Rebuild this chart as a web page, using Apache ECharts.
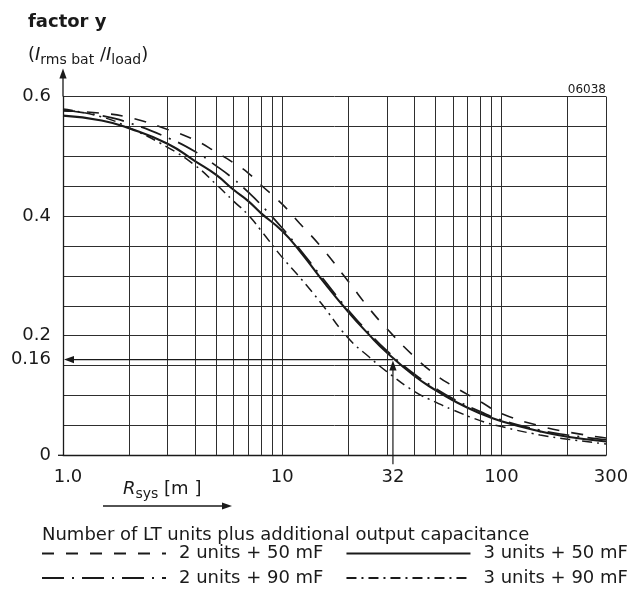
<!DOCTYPE html>
<html><head><meta charset="utf-8">
<script src="https://cdn.jsdelivr.net/npm/echarts@6/dist/echarts.min.js"></script>
<style>html,body{margin:0;padding:0;background:#fff}#c{width:639px;height:593px}</style>
</head><body><div id="c"></div>
<script>
// ---- data ----
const rValues = [1, 1.5, 2, 3, 4, 5, 6, 7, 8, 10, 12, 15, 20, 25, 30, 40, 50, 60, 80, 100, 150, 200, 300];
const units2_50mF = [0.576, 0.572, 0.565, 0.545, 0.527, 0.507, 0.489, 0.472, 0.452, 0.420, 0.388, 0.349, 0.291, 0.245, 0.212, 0.165, 0.135, 0.116, 0.090, 0.070, 0.049, 0.039, 0.029];
const units3_50mF = [0.568, 0.560, 0.547, 0.521, 0.492, 0.469, 0.444, 0.425, 0.405, 0.375, 0.342, 0.296, 0.240, 0.201, 0.172, 0.133, 0.109, 0.092, 0.070, 0.057, 0.040, 0.031, 0.023];
const units2_90mF = [0.577, 0.568, 0.556, 0.531, 0.508, 0.484, 0.462, 0.440, 0.419, 0.380, 0.345, 0.300, 0.243, 0.204, 0.175, 0.136, 0.112, 0.095, 0.073, 0.059, 0.042, 0.034, 0.026];
const units3_90mF = [0.579, 0.566, 0.548, 0.515, 0.485, 0.453, 0.425, 0.402, 0.376, 0.331, 0.298, 0.255, 0.196, 0.164, 0.140, 0.107, 0.089, 0.076, 0.058, 0.048, 0.034, 0.027, 0.019];
const seriesNames = ['2 units + 50 mF', '3 units + 50 mF', '2 units + 90 mF', '3 units + 90 mF'];
const xTickLabels = [1, 10, 32, 100, 300];
const yTickLabels = [0, 0.16, 0.2, 0.4, 0.6];
const xGridValues = [2, 3, 4, 5, 6, 7, 8, 9, 10, 20, 30, 40, 50, 60, 70, 80, 90, 100, 200, 300];
const readPoint = [32, 0.16];

// ---- styles ----
const FONT = 'DejaVu Sans';
const INK = '#1a1a1a';
const GRID = '#2e2e2e';
const curveStyles = [
  { width: 1.6, type: [12, 12] },
  { width: 2.1, type: 'solid' },
  { width: 1.7, type: [22, 8, 2, 8] },
  { width: 1.5, type: [10, 5, 2, 5] }
];
const seriesData = [units2_50mF, units3_50mF, units2_90mF, units3_90mF];

const series = seriesNames.map((name, i) => ({
  name, type: 'line', symbol: 'none', showSymbol: false,
  smooth: 0.5,
  data: rValues.map((r, k) => [r, seriesData[i][k]]),
  lineStyle: Object.assign({ color: INK }, curveStyles[i]),
  emphasis: { disabled: true }, z: 3
}));
series[0].markLine = {
  silent: true, symbol: ['none', 'none'], animation: false,
  label: { show: false }, emphasis: { disabled: true },
  lineStyle: { color: GRID, width: 1, type: 'solid' },
  data: xGridValues.map(v => ({ xAxis: v }))
};

const legendCommon = {
  orient: 'horizontal', padding: 0, itemWidth: 124, itemHeight: 14, itemGap: 22,
  selectedMode: false, left: 41,
  itemStyle: { color: 'rgba(0,0,0,0)', borderWidth: 0 },
  textStyle: { fontFamily: FONT, fontSize: 18, color: INK, padding: [0, 0, 0, 8] }
};
const richText = {
  p: { fontFamily: FONT, fontSize: 18, fontWeight: 'normal', lineHeight: 24, color: INK },
  i: { fontFamily: FONT, fontSize: 18, fontWeight: 'normal', lineHeight: 24, fontStyle: 'italic', color: INK },
  s: { fontFamily: FONT, fontSize: 14, fontWeight: 'normal', lineHeight: 14, verticalAlign: 'bottom', color: INK }
};

const option = {
  animation: false,
  textStyle: { fontFamily: FONT, color: INK },
  grid: { left: 63, right: 33, top: 96.5, bottom: 137.7, containLabel: false, outerBoundsMode: 'none' },
  title: [
    { text: 'factor y', left: 28, top: 13, padding: 0,
      textStyle: { fontFamily: FONT, fontSize: 18, fontWeight: 'bold', color: INK } },
    { text: '{p|(}{i|I}{s|rms bat}{p| /}{i|I}{s|load}{p|)}', left: 28, top: 43, padding: 0,
      textStyle: { fontWeight: 'normal', rich: richText } },
    { text: '06038', right: 33, top: 84, padding: 0,
      textStyle: { fontFamily: FONT, fontSize: 12, fontWeight: 'normal', color: INK } },
    { text: '{i|R}{s|sys}{p| [m ]}', left: 123, top: 477, padding: 0,
      textStyle: { fontWeight: 'normal', rich: richText } },
    { text: 'Number of LT units plus additional output capacitance', left: 42, top: 526, padding: 0,
      textStyle: { fontFamily: FONT, fontSize: 18, fontWeight: 'normal', color: INK } }
  ],
  legend: [
    Object.assign({ data: [seriesNames[0], seriesNames[1]], top: 544.5 }, legendCommon),
    Object.assign({ data: [seriesNames[2], seriesNames[3]], top: 569 }, legendCommon)
  ],
  xAxis: {
    type: 'log', logBase: 10, min: 1, max: 300,
    axisLine: { show: true, onZero: false, lineStyle: { color: INK, width: 1.3 } },
    axisTick: { show: false }, axisLabel: { show: false },
    splitLine: { show: false }, minorSplitLine: { show: false }
  },
  yAxis: {
    type: 'value', min: 0, max: 0.6, interval: 0.05,
    axisLine: { show: true, onZero: false, lineStyle: { color: INK, width: 1.3 } },
    axisTick: { show: false },
    splitLine: { show: true, lineStyle: { color: GRID, width: 1 } },
    axisLabel: {
      customValues: yTickLabels, margin: 12, fontSize: 18, fontFamily: FONT, color: INK,
      formatter: v => (Math.abs(v) < 1e-9 ? '0' : String(+Number(v).toFixed(2)))
    }
  },
  series
};

const chart = echarts.init(document.getElementById('c'), null, { renderer: 'canvas' });
chart.setOption(option);

// ---- annotations positioned through the axes ----
const px = (x, y) => chart.convertToPixel({ gridIndex: 0 }, [x, y]);
const [xL, y0] = px(1, 0);
const [, yTop] = px(1, 0.6);
const [xr, yr] = px(readPoint[0], readPoint[1]);
const head = (tx, ty, dir) => {
  const L = 10, W = 3.6;
  let pts;
  if (dir === 'up') pts = [[tx, ty], [tx - W, ty + L], [tx + W, ty + L]];
  else if (dir === 'left') pts = [[tx, ty], [tx + L, ty - W], [tx + L, ty + W]];
  else pts = [[tx, ty], [tx - L, ty - W], [tx - L, ty + W]];
  return { type: 'polygon', shape: { points: pts }, style: { fill: INK }, z: 10, silent: true };
};
const seg = (x1, y1, x2, y2, w) => ({ type: 'line', shape: { x1, y1, x2, y2 },
  style: { stroke: INK, lineWidth: w || 1.2 }, z: 10, silent: true });

const graphics = [
  seg(xL, yTop, xL, yTop - 20, 1.3), head(xL, yTop - 28, 'up'),
  seg(xL - 5, y0, xL, y0, 1.3),
  seg(xr, yr, xL + 8, yr), head(xL + 1, yr, 'left'),
  seg(xr, yr + 8, xr, y0 + 9), head(xr, yr + 1, 'up'),
  seg(103, 506, 224, 506, 1.3), head(232, 506, 'right')
];
xTickLabels.forEach(v => {
  const [x] = px(v, 0);
  const off = (v === 1 || v === 300) ? 5 : 0;
  graphics.push({ type: 'text', x: x + off, y: 477, silent: true, z: 10,
    style: { text: v === 1 ? '1.0' : String(v), fontFamily: FONT, fontSize: 18, fill: INK,
      align: 'center', verticalAlign: 'middle' } });
});
chart.setOption({ graphic: graphics });
</script>
</body></html>
